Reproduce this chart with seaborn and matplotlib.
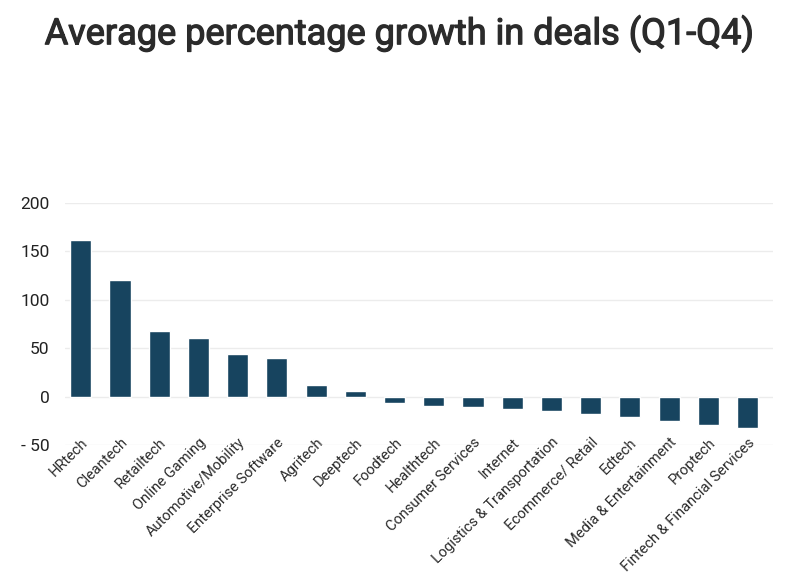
import pandas as pd
import numpy as np
import matplotlib
matplotlib.use("Agg")
import matplotlib.pyplot as plt
import matplotlib.patheffects as pe
import seaborn as sns

# Dữ liệu
sectors = ['HRtech', 'Cleantech', 'Retailtech', 'Online Gaming', 'Automotive/Mobility',
           'Enterprise Software', 'Agritech', 'Deeptech', 'Foodtech', 'Healthtech',
           'Consumer Services', 'Internet', 'Logistics & Transportation', 'Ecommerce/ Retail',
           'Edtech', 'Media & Entertainment', 'Proptech', 'Fintech & Financial Services']
growth = [161.4, 120.6, 67.6, 60.1, 43.6, 39.5, 12.0, 6.2, -6.7, -9.7,
          -10.7, -12.4, -15.1, -17.9, -21.0, -25.1, -28.9, -32.7]
yticks = [-50, 0, 50, 100, 150, 200]
ytick_labels = ['- 50', '0', '50', '100', '150', '200']

df = pd.DataFrame({'Sector': sectors, 'Growth': growth})

sns.set_style('white')
plt.rcParams['font.family'] = ['Roboto', 'DejaVu Sans']

fig = plt.figure(figsize=(7.99, 5.75), dpi=100)
ax = fig.add_axes([0.081, 0.226, 0.886, 0.421])

sns.barplot(data=df, x='Sector', y='Growth', color='#17445f', width=0.54,
            saturation=1, ax=ax, zorder=3)

ax.set_ylim(-50, 200)
ax.set_xlim(-0.41, 17.64)
ax.set_yticks(yticks)
ax.set_yticklabels(ytick_labels, fontsize=12.5, color='#222222')
ax.yaxis.grid(True, color='#ececec', linewidth=1, zorder=0)
ax.tick_params(axis='y', length=0, pad=11)
ax.tick_params(axis='x', length=0, pad=-7)
plt.setp(ax.get_xticklabels(), rotation=45, ha='right', rotation_mode='anchor',
         fontsize=10.5, color='#2a2a2a')
ax.set_xlabel('')
ax.set_ylabel('')
sns.despine(ax=ax, left=True, bottom=True)

# tiêu đề, làm đậm nhẹ
title = fig.suptitle('Average percentage growth in deals (Q1-Q4)', fontsize=26,
                     fontweight='normal', color='#2b2b2b', y=0.975)
title.set_path_effects([pe.withStroke(linewidth=0.9, foreground='#2b2b2b')])

fig.savefig('out.png', dpi=100)
